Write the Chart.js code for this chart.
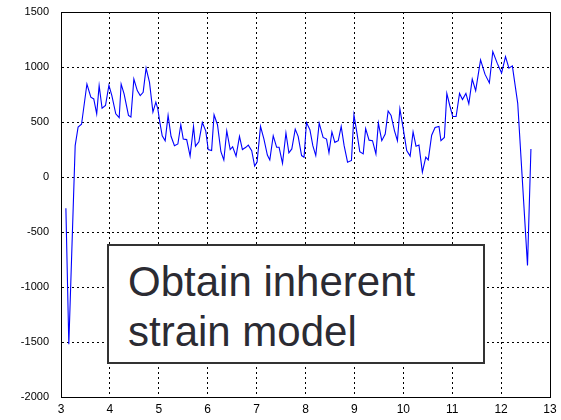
<!DOCTYPE html>
<html>
<head>
<meta charset="utf-8">
<script src="https://cdn.jsdelivr.net/npm/chart.js@4"></script>
<style>
  body { margin: 0; background: #fff; }
  #wrap { position: relative; width: 561px; height: 420px; }
  #note {
    position: absolute; left: 107px; top: 244px; width: 378px; height: 120px;
    border: 2px solid #333; background: #fff;
    font-family: "Liberation Sans", Arial, sans-serif; font-size: 42px;
    line-height: 50px; color: #2b2b33; padding: 11px 0 0 19px; box-sizing: border-box;
  }
</style>
</head>
<body>
<div id="wrap">
  <canvas id="strainChart" width="561" height="420"></canvas>
  <div id="note">Obtain inherent<br>strain model</div>
</div>
<script>
const xVals = [3.10, 3.16, 3.29, 3.35, 3.42, 3.53, 3.61, 3.67, 3.73, 3.78, 3.84, 3.91, 3.98, 4.04, 4.12, 4.19,
  4.23, 4.29, 4.38, 4.43, 4.49, 4.56, 4.62, 4.68, 4.74, 4.81, 4.88, 4.94, 4.98, 5.02, 5.07, 5.13,
  5.19, 5.25, 5.32, 5.39, 5.45, 5.50, 5.57, 5.64, 5.71, 5.75, 5.82, 5.89, 5.96, 6.01, 6.08, 6.13,
  6.20, 6.27, 6.33, 6.39, 6.46, 6.51, 6.58, 6.65, 6.71, 6.78, 6.83, 6.90, 6.96, 7.01, 7.08, 7.15,
  7.22, 7.27, 7.34, 7.41, 7.46, 7.53, 7.60, 7.66, 7.72, 7.79, 7.85, 7.92, 7.97, 8.02, 8.09, 8.15,
  8.21, 8.28, 8.36, 8.43, 8.48, 8.54, 8.60, 8.67, 8.73, 8.79, 8.86, 8.94, 8.99, 9.05, 9.11, 9.18,
  9.23, 9.30, 9.37, 9.44, 9.49, 9.56, 9.63, 9.69, 9.75, 9.82, 9.88, 9.93, 10.00, 10.07, 10.14, 10.20,
  10.26, 10.32, 10.39, 10.46, 10.51, 10.58, 10.65, 10.73, 10.77, 10.84, 10.89, 10.95, 11.01, 11.08, 11.15, 11.21,
  11.28, 11.34, 11.41, 11.48, 11.58, 11.67, 11.76, 11.83, 11.92, 12.01, 12.09, 12.16, 12.23, 12.34, 12.54, 12.61];

const strain = [-285, -1520, 285, 455, 480, 845, 725, 710, 575, 830, 625, 650, 835, 740, 575, 540,
  845, 755, 560, 545, 890, 785, 740, 770, 990, 860, 590, 680, 620, 500, 375, 330,
  560, 370, 285, 300, 475, 345, 340, 190, 460, 280, 320, 495, 420, 250, 240, 565,
  475, 230, 155, 420, 250, 275, 190, 370, 250, 270, 290, 240, 100, 135, 460, 345,
  200, 155, 375, 270, 270, 125, 400, 220, 255, 435, 370, 195, 180, 495, 430, 285,
  195, 490, 360, 345, 220, 410, 315, 330, 460, 285, 135, 150, 565, 405, 230, 210,
  440, 335, 330, 210, 490, 330, 390, 600, 560, 420, 330, 620, 435, 240, 190, 410,
  280, 290, 45, 180, 155, 380, 450, 460, 330, 360, 760, 650, 550, 550, 760, 705,
  760, 665, 890, 785, 1065, 935, 855, 1140, 1035, 945, 1095, 990, 1010, 670, -805, 255];

const xTicks = [3, 4, 5, 6, 7, 8, 9, 10, 11, 12, 13];
const yTicks = [-2000, -1500, -1000, -500, 0, 500, 1000, 1500];

const points = xVals.map((x, k) => ({ x: x, y: strain[k] }));

// frame round the plot area (top and right sides too)
const framePlugin = {
  id: "frame",
  afterDatasetsDraw(chart) {
    const a = chart.chartArea;
    const ctx = chart.ctx;
    ctx.save();
    ctx.strokeStyle = "#000";
    ctx.lineWidth = 1;
    ctx.strokeRect(a.left + 0.5, a.top + 0.5, a.right - a.left, a.bottom - a.top);
    ctx.restore();
  }
};

const gridStyle = {
  color: "#000",
  lineWidth: 1,
  drawTicks: false
};

new Chart(document.getElementById("strainChart"), {
  type: "line",
  data: {
    datasets: [{
      data: points,
      borderColor: "#0000ff",
      borderWidth: 1.1,
      pointRadius: 0,
      tension: 0,
      fill: false
    }]
  },
  options: {
    responsive: false,
    animation: false,
    events: [],
    layout: { padding: { top: 12, right: 11, left: 0, bottom: 0 } },
    plugins: { legend: { display: false }, tooltip: { enabled: false } },
    scales: {
      x: {
        type: "linear",
        min: 3, max: 13,
        afterBuildTicks: s => { s.ticks = xTicks.map(v => ({ value: v })); },
        afterFit: s => { s.height = 23; s.paddingLeft = 0; s.paddingRight = 0; },
        grid: gridStyle,
        border: { display: true, color: "#000", width: 1, dash: [2, 3] },
        ticks: {
          color: "#000", padding: 5,
          font: { family: "Liberation Sans", size: 12 },
          maxRotation: 0,
          callback: v => String(v)
        }
      },
      y: {
        min: -2000, max: 1500,
        afterBuildTicks: s => { s.ticks = yTicks.map(v => ({ value: v })); },
        afterFit: s => { s.width = 61; s.paddingTop = 0; s.paddingBottom = 0; },
        grid: gridStyle,
        border: { display: true, color: "#000", width: 1, dash: [2, 3] },
        ticks: {
          color: "#000", padding: 12,
          font: { family: "Liberation Sans", size: 11 },
          callback: v => String(v)
        }
      }
    }
  },
  plugins: [framePlugin]
});
</script>
</body>
</html>
